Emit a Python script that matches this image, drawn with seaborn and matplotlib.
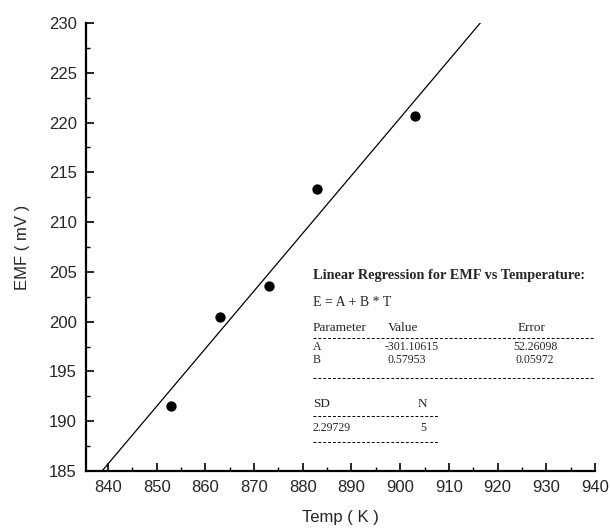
import matplotlib
matplotlib.use("Agg")
import matplotlib.pyplot as plt
import seaborn as sns
import numpy as np
import pandas as pd
from matplotlib.ticker import MultipleLocator

# Data
temps = [853, 863, 873, 883, 903]
emf = [191.5, 200.5, 203.6, 213.3, 220.7]
fit_A = -301.10615
fit_B = 0.57953
x_ticks = [840, 850, 860, 870, 880, 890, 900, 910, 920, 930, 940]
y_ticks = [185, 190, 195, 200, 205, 210, 215, 220, 225, 230]

sns.set_style("ticks")
plt.rcParams['font.family'] = ['Liberation Sans', 'DejaVu Sans']

W, H = 610, 529
fig = plt.figure(figsize=(6.1, 5.29), dpi=100)
ax = fig.add_axes([86 / W, 1 - 471 / H, (595 - 86) / W, (471 - 23) / H])

df = pd.DataFrame({"T": temps, "E": emf})
sns.scatterplot(data=df, x="T", y="E", ax=ax, color="black", s=55,
                edgecolor="black", linewidth=0, zorder=3)

xl = np.array([835.5, 940.0])
fit_df = pd.DataFrame({"T": xl, "E": fit_A + fit_B * xl})
sns.lineplot(data=fit_df, x="T", y="E", ax=ax, color="black", linewidth=0.9)

ax.set_xlim(835.5, 940)
ax.set_ylim(185, 230)
ax.set_xticks(x_ticks)
ax.set_yticks(y_ticks)
ax.xaxis.set_minor_locator(MultipleLocator(5))
ax.yaxis.set_minor_locator(MultipleLocator(2.5))
ax.tick_params(which='major', direction='in', length=6, width=1.2, labelsize=12,
               color='black', pad=6.5)
ax.tick_params(which='minor', direction='in', length=3, width=1.0, color='black')
for s in ['top', 'right']:
    ax.spines[s].set_visible(False)
for s in ['left', 'bottom']:
    ax.spines[s].set_linewidth(1.6)
    ax.spines[s].set_color('black')

ax.set_xlabel("Temp ( K )", fontsize=12, labelpad=11)
ax.set_ylabel("EMF ( mV )", fontsize=12, labelpad=14)

def fx(px):
    return px / W
def fy(py):
    return 1 - py / H

serif = ['Liberation Serif', 'DejaVu Serif']
fs = 9.5
fsn = 8.5
fig.text(fx(313), fy(275), "Linear Regression for EMF vs Temperature:", fontsize=10.3,
         family=serif, va='center', fontweight='bold')
fig.text(fx(313), fy(302), "E = A + B * T", fontsize=10, family=serif, va='center')
fig.text(fx(313), fy(328), "Parameter", fontsize=fs, family=serif, va='center')
fig.text(fx(388), fy(328), "Value", fontsize=fs, family=serif, va='center')
fig.text(fx(518), fy(328), "Error", fontsize=fs, family=serif, va='center')
fig.text(fx(313), fy(347), "A", fontsize=fsn, family=serif, va='center')
fig.text(fx(385), fy(347), "-301.10615", fontsize=fsn, family=serif, va='center')
fig.text(fx(513), fy(347), "52.26098", fontsize=fsn, family=serif, va='center')
fig.text(fx(313), fy(360), "B", fontsize=fsn, family=serif, va='center')
fig.text(fx(387), fy(360), "0.57953", fontsize=fsn, family=serif, va='center')
fig.text(fx(515), fy(360), "0.05972", fontsize=fsn, family=serif, va='center')
fig.text(fx(313), fy(404), "SD", fontsize=fs, family=serif, va='center')
fig.text(fx(418), fy(404), "N", fontsize=fs, family=serif, va='center')
fig.text(fx(313), fy(428), "2.29729", fontsize=fsn, family=serif, va='center')
fig.text(fx(420), fy(428), "5", fontsize=fsn, family=serif, va='center')

for (x0, x1, yy) in [(313, 593, 338), (313, 593, 378), (313, 438, 416), (313, 438, 442)]:
    fig.add_artist(plt.Line2D([fx(x0), fx(x1)], [fy(yy), fy(yy)], transform=fig.transFigure,
                              color='black', linewidth=0.7, linestyle=(0, (3, 2))))

fig.savefig("out.png", dpi=100)
